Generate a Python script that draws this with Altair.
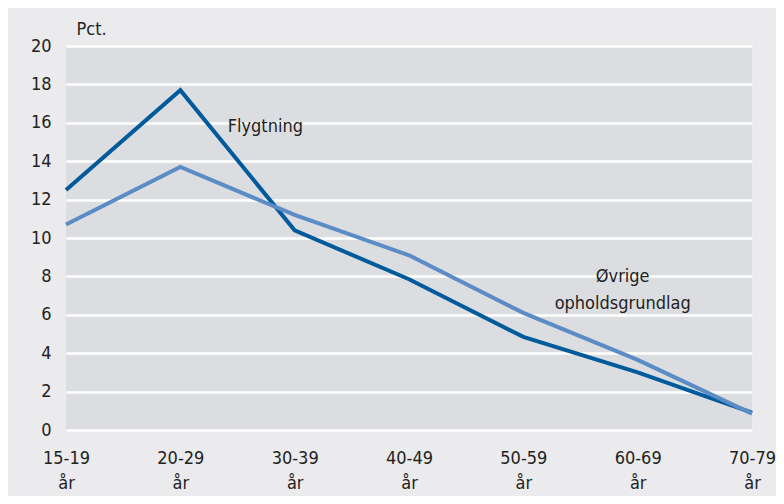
import altair as alt
import pandas as pd

ages = ["15-19", "20-29", "30-39", "40-49", "50-59", "60-69", "70-79"]
flygtning = [12.5, 17.7, 10.4, 7.85, 4.85, 3.0, 0.9]
ovrige = [10.7, 13.7, 11.2, 9.1, 6.1, 3.65, 0.85]

series_names = ["Flygtning", "Øvrige opholdsgrundlag"]
colors = ["#005a9c", "#5b8cc6"]

rows = []
for a, v in zip(ages, flygtning):
    rows.append({"age": a, "value": v, "series": series_names[0]})
for a, v in zip(ages, ovrige):
    rows.append({"age": a, "value": v, "series": series_names[1]})
df = pd.DataFrame(rows)

labels = pd.DataFrame({
    "text": ["Flygtning", "Øvrige", "opholdsgrundlag"],
    "age": ["30-39", "60-69", "60-69"],
    "value": [15.8, 7.95, 6.55],
})

FONT = "DejaVu Sans Condensed"

x = alt.X("age:N", sort=ages, scale=alt.Scale(type="point", padding=0),
          axis=alt.Axis(title=None, labelAngle=0, labelExpr="[datum.label, 'år']",
                        labelPadding=19, labelLineHeight=25, grid=False))
y = alt.Y("value:Q", scale=alt.Scale(domain=[0, 20]),
          axis=alt.Axis(values=list(range(0, 21, 2)), title="Pct.", titleAngle=0,
                        titleAlign="left", titleBaseline="alphabetic",
                        titleX=10, titleY=-12, titleFontWeight="normal",
                        titleFontSize=18, titleFont=FONT, titleColor="#222222",
                        labelPadding=15, labelOverlap=False))

lines = alt.Chart(df).mark_line(strokeWidth=4, strokeJoin="miter").encode(
    x=x, y=y,
    color=alt.Color("series:N", scale=alt.Scale(domain=series_names, range=colors), legend=None),
    order=alt.Order("series:N"),
)

txt1 = alt.Chart(labels.iloc[[0]]).mark_text(align="left", baseline="middle", dx=-67,
                                             font=FONT, fontSize=18, color="#222222").encode(
    x=x, y=y, text="text:N")
txt2 = alt.Chart(labels.iloc[[1, 2]]).mark_text(align="center", baseline="middle", dx=-15,
                                                font=FONT, fontSize=18, color="#222222").encode(
    x=x, y=y, text="text:N")

chart = alt.layer(lines, txt1, txt2).properties(
    width=686, height=384,
    background="#ebebed",
    padding={"left": 58, "top": 38, "right": 24, "bottom": 66},
    autosize=alt.AutoSizeParams(type="none"),
).configure_view(
    fill="#dcdde0", stroke=None,
).configure_axis(
    domain=False, ticks=False,
    gridColor="#ffffff", gridWidth=2.5, gridOpacity=1,
    labelFont=FONT, labelFontSize=18, labelColor="#222222",
)

chart.save("out.html", embed_options={"renderer": "svg", "actions": False})
